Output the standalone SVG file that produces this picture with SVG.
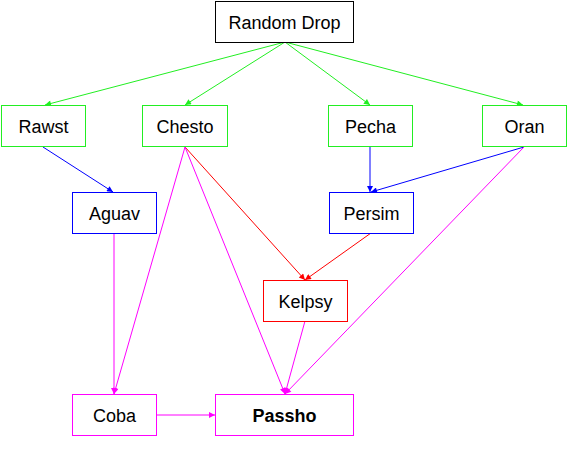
<svg xmlns="http://www.w3.org/2000/svg" width="567" height="464" viewBox="0 0 567 464">
<style>
.n{fill:#fff;stroke-width:1}
.t{font-family:"Liberation Sans",Arial,sans-serif;font-size:18px;text-anchor:middle;dominant-baseline:central;fill:#000}
.e{fill:none;stroke-width:1}
.g{stroke:#22ee22}.b{stroke:#0000ff}.r{stroke:#ff0000}.m{stroke:#ff00ff}
</style>
<defs>
<marker id="ag" viewBox="0 0 10 10" refX="10" refY="5" markerWidth="8" markerHeight="6" orient="auto" markerUnits="userSpaceOnUse"><path d="M0,0L10,5L0,10z" fill="#22ee22"/></marker>
<marker id="ab" viewBox="0 0 10 10" refX="10" refY="5" markerWidth="8" markerHeight="6" orient="auto" markerUnits="userSpaceOnUse"><path d="M0,0L10,5L0,10z" fill="#0000ff"/></marker>
<marker id="ar" viewBox="0 0 10 10" refX="10" refY="5" markerWidth="8" markerHeight="6" orient="auto" markerUnits="userSpaceOnUse"><path d="M0,0L10,5L0,10z" fill="#ff0000"/></marker>
<marker id="am" viewBox="0 0 10 10" refX="10" refY="5" markerWidth="8" markerHeight="6" orient="auto" markerUnits="userSpaceOnUse"><path d="M0,0L10,5L0,10z" fill="#ff00ff"/></marker>
</defs>
<g id="edges">
<path class="e g" d="M285,42L45,105" marker-end="url(#ag)"/>
<path class="e g" d="M285,42L185,105" marker-end="url(#ag)"/>
<path class="e g" d="M285,42L370,105" marker-end="url(#ag)"/>
<path class="e g" d="M285,42L523,105" marker-end="url(#ag)"/>
<path class="e b" d="M43,147L113,192" marker-end="url(#ab)"/>
<path class="e b" d="M370,147L370,192" marker-end="url(#ab)"/>
<path class="e b" d="M524,147L371,192" marker-end="url(#ab)"/>
<path class="e r" d="M185,147L305,280" marker-end="url(#ar)"/>
<path class="e r" d="M371,233L305,280" marker-end="url(#ar)"/>
<path class="e m" d="M185,147L114,394" marker-end="url(#am)"/>
<path class="e m" d="M185,147L285,394" marker-end="url(#am)"/>
<path class="e m" d="M524,147L285,394" marker-end="url(#am)"/>
<path class="e m" d="M305,321L285,394" marker-end="url(#am)"/>
<path class="e m" d="M114,233L114,394" marker-end="url(#am)"/>
<path class="e m" d="M157,415L215,415" marker-end="url(#am)"/>
</g>
<g id="random-drop"><rect class="n" x="215.5" y="1.5" width="138" height="41" stroke="#000"/><text class="t" x="284.5" y="23">Random Drop</text></g>
<g id="rawst"><rect class="n g" x="1.5" y="105.5" width="84" height="41"/><text class="t" x="43.5" y="127">Rawst</text></g>
<g id="chesto"><rect class="n g" x="142.5" y="105.5" width="85" height="41"/><text class="t" x="185" y="127">Chesto</text></g>
<g id="pecha"><rect class="n g" x="328.5" y="105.5" width="84" height="41"/><text class="t" x="370.5" y="127">Pecha</text></g>
<g id="oran"><rect class="n g" x="482.5" y="105.5" width="84" height="41"/><text class="t" x="524.5" y="127">Oran</text></g>
<g id="aguav"><rect class="n b" x="72.5" y="192.5" width="84" height="41"/><text class="t" x="114.5" y="214">Aguav</text></g>
<g id="persim"><rect class="n b" x="329.5" y="192.5" width="84" height="41"/><text class="t" x="371.5" y="214">Persim</text></g>
<g id="kelpsy"><rect class="n r" x="263.5" y="280.5" width="84" height="41"/><text class="t" x="305.5" y="302">Kelpsy</text></g>
<g id="coba"><rect class="n m" x="72.5" y="394.5" width="84" height="41"/><text class="t" x="114.5" y="416">Coba</text></g>
<g id="passho"><rect class="n m" x="215.5" y="394.5" width="138" height="41"/><text class="t" x="284.5" y="416" font-weight="bold">Passho</text></g>
</svg>
